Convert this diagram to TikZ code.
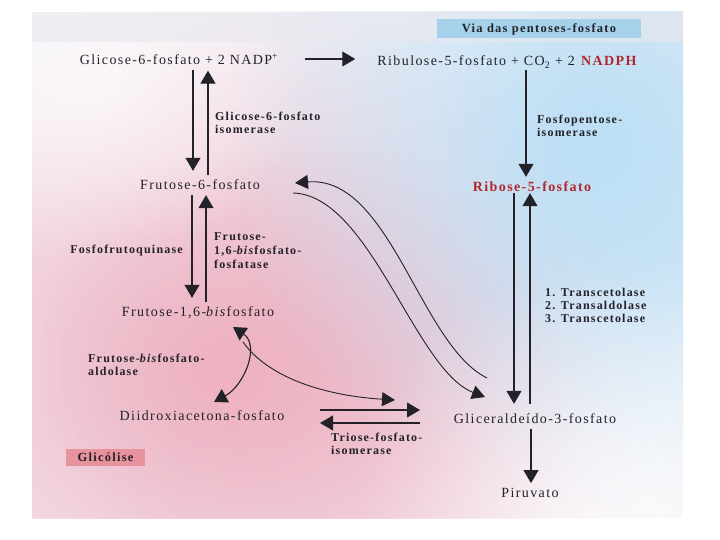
\documentclass[tikz,border=0pt]{standalone}
\usepackage{fontspec}
\setmainfont{Liberation Serif}[LetterSpace=10]
\usetikzlibrary{arrows.meta,fadings}
\definecolor{txt}{HTML}{222228}
\definecolor{redt}{HTML}{B0282E}
\definecolor{pinkbg}{HTML}{EEB1C1}
\definecolor{bluebg}{HTML}{BCDFF5}
\definecolor{basebg}{HTML}{F5F3F8}
\definecolor{topbg}{HTML}{E9E8EE}
\definecolor{viabox}{HTML}{A6D1EB}
\definecolor{glicbox}{HTML}{E8929D}
\tikzfading[name=softfade, inner color=transparent!0, outer color=transparent!100]
\begin{document}
\begin{tikzpicture}[x=1pt,y=-1pt,
  lbl/.style={font=\fontsize{14}{16}\selectfont, text=txt, inner xsep=2pt, inner ysep=5pt},
  enz/.style={font=\fontsize{12}{13}\selectfont\bfseries, text=txt, align=left, anchor=west, inner sep=0pt},
  arr/.style={draw=txt, line width=1.1pt, -{Triangle[length=13pt,width=15pt]}},
  darr/.style={draw=txt, line width=1.1pt, {Triangle[length=13pt,width=15pt]}-{Triangle[length=13pt,width=15pt]}},
  thin/.style={draw=txt, line width=0.9pt, -{Triangle[length=13pt,width=14pt]}},
  tagbox/.style={font=\fontsize{12.5}{14}\selectfont\bfseries, text=txt, inner sep=0pt}
]
\useasboundingbox (0,0) rectangle (720,540);
\fill[white] (0,0) rectangle (720,540);
% scanned page background
\begin{scope}
  \clip (32,12) rectangle (683,518);
  \fill[basebg] (32,12) rectangle (683,518);
  \fill[pinkbg, path fading=softfade, fit fading=true] (225,370) ellipse (440 and 380);
  \fill[pinkbg, opacity=0.6, path fading=softfade, fit fading=true] (320,360) ellipse (280 and 220);
  \fill[bluebg, path fading=softfade, fit fading=true] (595,145) ellipse (370 and 360);
  \fill[bluebg, opacity=0.5, path fading=softfade, fit fading=true] (640,220) ellipse (200 and 300);
  \fill[white, opacity=0.7, path fading=softfade, fit fading=true] (90,85) ellipse (220 and 180);
  \fill[white, opacity=0.6, path fading=softfade, fit fading=true] (620,480) ellipse (260 and 220);
  \fill[topbg, opacity=0.6] (32,12) rectangle (683,42);
\end{scope}

% title boxes
\node[tagbox, fill=viabox, minimum width=204pt, minimum height=19pt] (via) at (539,29) {Via das pentoses-fosfato};
\node[tagbox, fill=glicbox, minimum width=79pt, minimum height=17pt] (glic) at (105.5,457.5) {Glicólise};

% metabolites
\node[lbl] (g6p) at (179,59) {Glicose-6-fosfato + 2 NADP\textsuperscript{+}};
\node[lbl] (ru5p) at (507,62) {Ribulose-5-fosfato + CO\textsubscript{2} + 2 \textbf{\textcolor{redt}{NADPH}}};
\node[lbl] (f6p) at (200,185) {Frutose-6-fosfato};
\node[lbl, font=\fontsize{14}{16}\selectfont\bfseries, text=redt] (r5p) at (532,187) {Ribose-5-fosfato};
\node[lbl] (fbp) at (198,313) {Frutose-1,6-\textit{bis}fosfato};
\node[lbl] (dhap) at (202,416) {Diidroxiacetona-fosfato};
\node[lbl] (g3p) at (535,419) {Gliceraldeído-3-fosfato};
\node[lbl] (pir) at (530,493) {Piruvato};

% enzyme labels
\node[enz] (e1) at (215,123) {Glicose-6-fosfato\\isomerase};
\node[enz] (e2) at (537,126) {Fosfopentose-\\isomerase};
\node[enz, anchor=east] (e3) at (183,251) {Fosfofrutoquinase};
\node[enz, font=\fontsize{12}{14}\selectfont\bfseries] (e4) at (214,251) {Frutose-\\1,6-\textit{bis}fosfato-\\fosfatase};
\node[enz] (e5) at (88,365) {Frutose-\textit{bis}fosfato-\\aldolase};
\node[enz] (e6) at (545,305) {1. Transcetolase\\2. Transaldolase\\3. Transcetolase};
\node[enz] (e7) at (331,444) {Triose-fosfato-\\isomerase};

% x positions of the vertical connectors
\coordinate (xa) at (193,0);
\coordinate (xb) at (208,0);
\coordinate (xc) at (192,0);
\coordinate (xd) at (206,0);
\coordinate (xe) at (526,0);
\coordinate (xf) at (514,0);
\coordinate (xg) at (530,0);
\coordinate (xh) at (531,0);

% oxidative step
\draw[arr] ([xshift=25pt]g6p.east) -- ([xshift=-20pt]g6p.east -| ru5p.west);

% glycolysis column
\draw[arr] (g6p.south -| xa) -- ([yshift=4pt]f6p.north -| xa);
\draw[arr] (f6p.north -| xb) -- ([yshift=-1pt]g6p.south -| xb);
\draw[arr] (f6p.south -| xc) -- ([yshift=4pt]fbp.north -| xc);
\draw[arr] (fbp.north -| xd) -- (f6p.south -| xd);

% pentose column
\draw[arr] ([yshift=3pt]ru5p.south -| xe) -- (r5p.north -| xe);
\draw[arr] ([yshift=4pt]r5p.south -| xf) -- ([yshift=5pt]g3p.north -| xf);
\draw[arr] ([yshift=5pt]g3p.north -| xg) -- ([yshift=4pt]r5p.south -| xg);
\draw[arr] (g3p.south -| xh) -- (pir.north -| xh);

% aldolase split
\coordinate (fbpTip) at (233,327);
\coordinate (dhapTip) at (214,402);
\coordinate (ald) at (243,342);
\coordinate (g3pTipA) at (395,400);
\draw[darr] (dhapTip) .. controls (245,385) and (260,345) .. (fbpTip);
\draw[thin] (ald) .. controls (270,380) and (330,396) .. (g3pTipA);

% triose-phosphate isomerase
\coordinate (tiL1) at (320,410);
\coordinate (tiR1) at (420,410);
\coordinate (tiL2) at (320,423);
\coordinate (tiR2) at (420,423);
\draw[arr] (tiL1) -- (tiR1);
\draw[arr] (tiR2) -- (tiL2);

% S-shaped connectors between F6P and G3P
\coordinate (sUpStart) at (487,378);
\coordinate (sUpTip) at (295,183);
\coordinate (sLoStart) at (293,193);
\coordinate (sLoTip) at (485,397);
\draw[thin] (sUpStart) .. controls (420,345) and (390,175) .. (sUpTip);
\draw[thin] (sLoStart) .. controls (370,195) and (415,370) .. (sLoTip);
\end{tikzpicture}
\end{document}
